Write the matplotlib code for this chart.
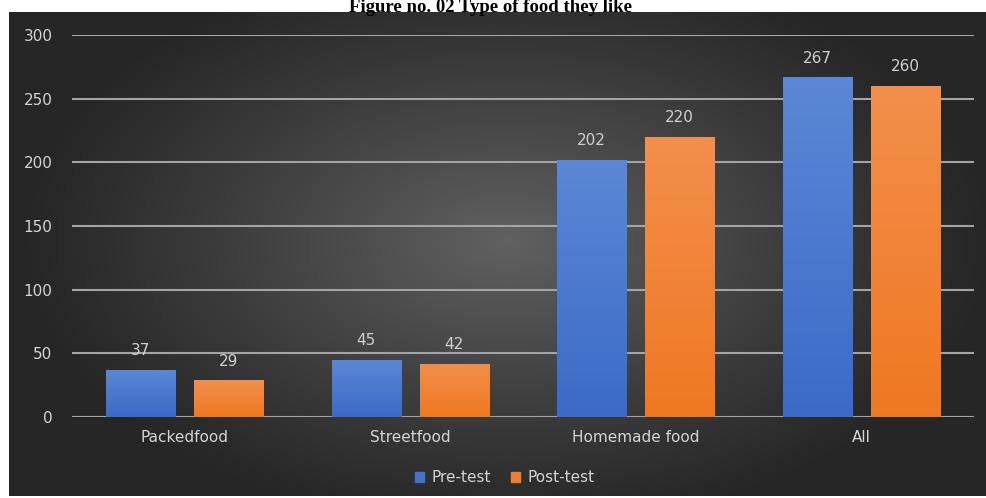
import numpy as np
import matplotlib
matplotlib.use('Agg')
import matplotlib.pyplot as plt
from matplotlib.patches import Patch
from matplotlib import patheffects as pe

categories = ['Packedfood', 'Streetfood', 'Homemade food', 'All']
pre_test = [37, 45, 202, 267]
post_test = [29, 42, 220, 260]
series_names = ['Pre-test', 'Post-test']
y_ticks = [0, 50, 100, 150, 200, 250, 300]

W, H = 986, 498
fig = plt.figure(figsize=(W / 100, H / 100), dpi=100)
fig.patch.set_facecolor('white')

# dark chart panel with a radial glow in the middle
bg = fig.add_axes([9 / W, 1 - 496 / H, 977 / W, 484 / H])
gx, gy = np.meshgrid(np.linspace(-1, 1, 400), np.linspace(-1, 1, 200))
r = np.sqrt(((gx - 0.02) / 1.0) ** 2 + ((gy + 0.05) / 1.2) ** 2)
shade = np.clip(1 - r, 0, 1) ** 1.1
lo, hi = np.array([0.15, 0.15, 0.15]), np.array([0.38, 0.38, 0.38])
img = lo + (hi - lo) * shade[..., None]
bg.imshow(img, aspect='auto', extent=[0, 1, 0, 1], interpolation='bilinear')
bg.set_axis_off()

fig.text(0.497, 1 - 12.5 / H, 'Figure no. 02 Type of food they like',
         family='Liberation Serif', weight='bold', fontsize=13.5,
         ha='center', va='baseline', color='black')

ax = fig.add_axes([72 / W, 1 - 417 / H, 902 / W, 382 / H])
ax.set_facecolor('none')
ax.set_xlim(-0.5, len(categories) - 0.5)
ax.set_ylim(0, 300)

for y in y_ticks:
    ax.axhline(y, color='#a4a4a4', lw=1.5, zorder=1)

bw = 0.306
gap = 0.084
x = np.arange(len(categories))
blue = ax.bar(x - gap / 2 - bw / 2, pre_test, bw, color='#4472c4', zorder=3)
orange = ax.bar(x + gap / 2 + bw / 2, post_test, bw, color='#ed7d31', zorder=3)

def shade_bars(bars, top, bottom):
    grad = np.linspace(0, 1, 100)[:, None, None]
    top, bottom = np.array(top), np.array(bottom)
    cimg = top + (bottom - top) * grad
    for b in bars:
        b.set_path_effects([pe.SimplePatchShadow(offset=(0, 0), shadow_rgbFace='black', alpha=0.5),
                            pe.Normal()])
        x0, w, h = b.get_x(), b.get_width(), b.get_height()
        im = ax.imshow(cimg, extent=[x0, x0 + w, 0, h], aspect='auto',
                       zorder=3.5, interpolation='bilinear')
        im.set_clip_path(b)

shade_bars(blue, [0.36, 0.53, 0.84], [0.23, 0.42, 0.78])
shade_bars(orange, [0.95, 0.56, 0.30], [0.94, 0.47, 0.13])

fs = 11
for bars, vals in ((blue, pre_test), (orange, post_test)):
    for b, v in zip(bars, vals):
        ax.text(b.get_x() + b.get_width() / 2, v + 9, str(v), ha='center', va='bottom',
                color='#d0d0d0', fontsize=fs, zorder=5)

ax.set_xticks(x)
ax.set_xticklabels(categories)
ax.set_yticks(y_ticks)
ax.tick_params(axis='both', length=0, colors='#d4d4d4', labelsize=fs)
ax.tick_params(axis='y', pad=14)
ax.tick_params(axis='x', pad=9)
for s in ax.spines.values():
    s.set_visible(False)

handles = [Patch(color='#4472c4'), Patch(color='#ed7d31')]
leg = fig.legend(handles, series_names, loc='center', bbox_to_anchor=(505 / W, 1 - 478 / H),
                 ncol=2, frameon=False, fontsize=fs, handlelength=0.6, handleheight=0.6,
                 handletextpad=0.5, columnspacing=1.3)
for t in leg.get_texts():
    t.set_color('#d4d4d4')

fig.savefig('out.png', dpi=100)
